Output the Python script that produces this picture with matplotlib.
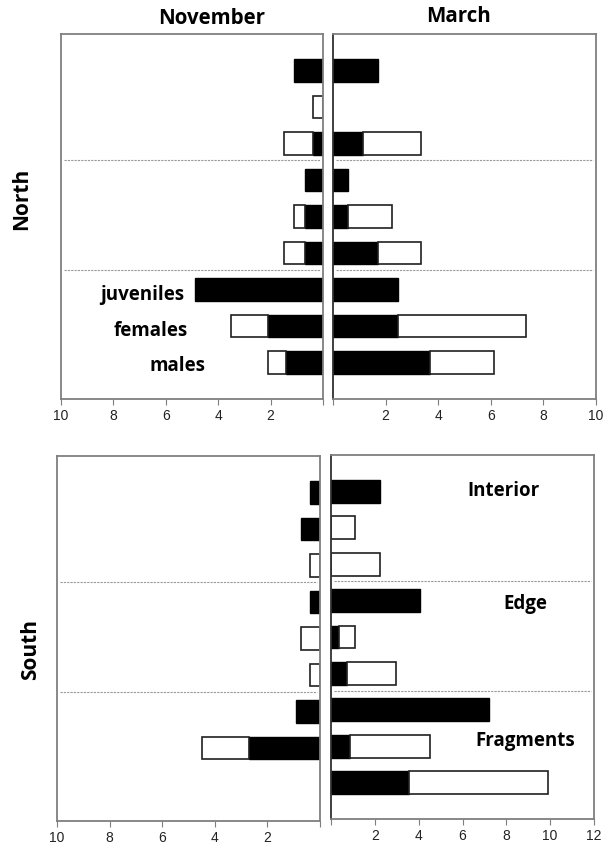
#%%
import numpy as np
import matplotlib.pyplot as plt

#%% Data (rows top to bottom: Interior, Edge, Fragments x juveniles, females, males)
rows = ["Interior juveniles", "Interior females", "Interior males",
        "Edge juveniles", "Edge females", "Edge males",
        "Fragments juveniles", "Fragments females", "Fragments males"]

north_nov_black = [1.1, 0.0, 0.4, 0.7, 0.7, 0.7, 4.9, 2.1, 1.4]
north_nov_white = [0.0, 0.4, 1.1, 0.0, 0.4, 0.8, 0.0, 1.4, 0.7]
north_mar_black = [1.7, 0.0, 1.15, 0.57, 0.57, 1.7, 2.47, 2.47, 3.68]
north_mar_white = [0.0, 0.0, 2.2, 0.0, 1.66, 1.66, 0.0, 4.88, 2.44]

south_nov_black = [0.38, 0.73, 0.0, 0.38, 0.0, 0.0, 0.91, 2.7, 0.0]
south_nov_white = [0.0, 0.0, 0.38, 0.0, 0.73, 0.38, 0.0, 1.8, 0.0]
south_mar_black = [2.22, 0.0, 0.0, 4.07, 0.35, 0.73, 7.21, 0.88, 3.58]
south_mar_white = [0.0, 1.09, 2.22, 0.0, 0.74, 2.23, 0.0, 3.62, 6.31]

nov_ticks = [10, 8, 6, 4, 2, 0]
north_mar_ticks = [0, 2, 4, 6, 8, 10]
south_mar_ticks = [0, 2, 4, 6, 8, 10, 12]

sex_labels = ["juveniles", "females", "males"]
habitat_labels = ["Interior", "Edge", "Fragments"]

#%% Figure
W, H = 606, 852
fig = plt.figure(figsize=(W / 100, H / 100), dpi=100)
BOLD = dict(family=["Open Sans", "DejaVu Sans"], fontweight="bold")

def px_ax(x0, y0, x1, y1):
    return fig.add_axes([x0 / W, 1 - y1 / H, (x1 - x0) / W, (y1 - y0) / H])

def draw(ax, black, white, ticks, left):
    y = np.arange(len(rows))
    black = np.asarray(black)
    white = np.asarray(white)
    kb = black > 0
    kw = white > 0
    ax.barh(y[kb], black[kb], height=0.63, color="black", edgecolor="black", lw=1.0)
    ax.barh(y[kw], white[kw], left=black[kw], height=0.63, color="white",
            edgecolor="#202020", lw=1.2)
    ax.set_ylim(len(rows), -1)
    if left:
        ax.set_xlim(max(ticks), 0)
    else:
        ax.set_xlim(0, max(ticks))
    ax.set_xticks(ticks)
    ax.set_xticklabels(["" if t == 0 else str(t) for t in ticks],
                       family=["Liberation Sans", "DejaVu Sans"], fontsize=10, color="#222222")
    ax.tick_params(axis="x", direction="out", length=4, color="#7f7f7f", pad=3)
    ax.set_yticks([])
    for s in ax.spines.values():
        s.set_color("#7f7f7f")
        s.set_linewidth(1.3)
    if not left:
        ax.spines["left"].set_color("#303030")
    for yl in (2.45, 5.47):
        ax.axhline(yl, xmin=0.01, xmax=0.99, color="#999999", lw=0.8, ls=(0, (2, 1)))

# North
ax1 = px_ax(61, 34, 323, 399)
draw(ax1, north_nov_black, north_nov_white, nov_ticks, True)
ax2 = px_ax(333, 34, 596, 399)
draw(ax2, north_mar_black, north_mar_white, north_mar_ticks, False)
# South
ax3 = px_ax(57, 456, 320, 821)
draw(ax3, south_nov_black, south_nov_white, nov_ticks, True)
ax4 = px_ax(331, 455, 594, 819)
draw(ax4, south_mar_black, south_mar_white, south_mar_ticks, False)

# labels
for lab, xv, yv in zip(sex_labels, [8.5, 8.0, 6.64], [6.15, 7.15, 8.1]):
    ax1.text(xv, yv, lab, ha="left", va="center", fontsize=13.5, **BOLD)
for lab, xv, yv in zip(habitat_labels, [7.85, 8.87, 8.85], [0.0, 3.1, 6.85]):
    ax4.text(xv, yv, lab, ha="center", va="center", fontsize=13.5, **BOLD)

fig.text(212 / W, 1 - 19 / H, "November", ha="center", va="center", fontsize=14.8, **BOLD)
fig.text(458 / W, 1 - 17 / H, "March", ha="center", va="center", fontsize=14.8, **BOLD)
fig.text(22 / W, 1 - 199 / H, "North", ha="center", va="center", rotation=90, fontsize=15, **BOLD)
fig.text(31 / W, 1 - 650 / H, "South", ha="center", va="center", rotation=90, fontsize=15, **BOLD)

fig.savefig("out.png", dpi=100)
